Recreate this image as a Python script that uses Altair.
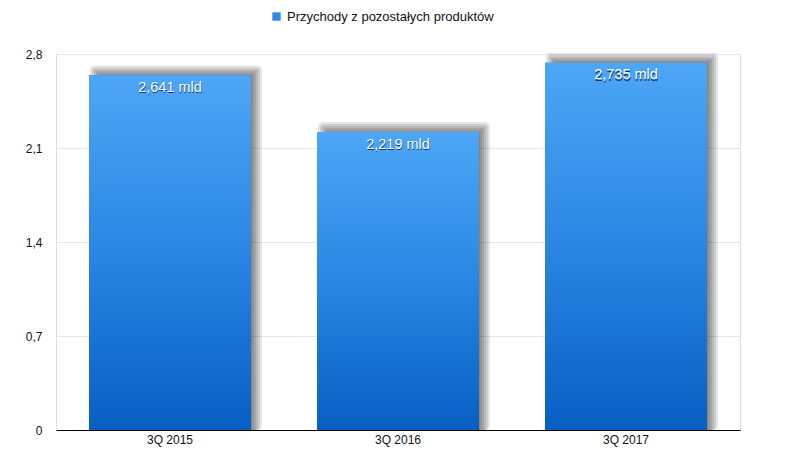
import altair as alt
import pandas as pd

categories = ["3Q 2015", "3Q 2016", "3Q 2017"]
values = [2.641, 2.219, 2.735]
series_name = "Przychody z pozostałych produktów"
y_ticks = [0, 0.7, 1.4, 2.1, 2.8]

labels = [f"{v:.3f}".replace(".", ",") + " mld" for v in values]
df = pd.DataFrame({"cat": categories, "val": values, "label": labels, "series": [series_name] * 3})

FONT = "Liberation Sans"
BAR_W = 162
PX = 2.8 / 376  # data units per pixel on the y scale

x_enc = alt.X("cat:N", sort=categories, title=None,
              axis=alt.Axis(labelAngle=0, ticks=False, domain=True, domainColor="black",
                            domainWidth=1, labelFontSize=12, labelColor="#111", labelPadding=4,
                            labelFont=FONT, grid=False))
y_axis = alt.Axis(values=y_ticks, domain=False, ticks=False, grid=True,
                  gridColor="#e6e6e6", labelFontSize=12, labelColor="#111",
                  labelPadding=14, labelFont=FONT,
                  labelExpr="datum.value == 0 ? '0' : replace(format(datum.value, '.1f'), '.', ',')")
y_scale = alt.Scale(domain=[0, 2.8], nice=False, zero=True)
y_enc = alt.Y("val:Q", title=None, scale=y_scale, axis=y_axis)

base = alt.Chart(df)

shadow_layers = []
for s in [-5, -3, -1, 1, 3, 5]:
    shadow_layers.append(
        base.transform_calculate(top=f"datum.val + {(5 + s) * PX}")
        .mark_bar(color="black", opacity=0.1, width=BAR_W + 2 * s, xOffset=6,
                  cornerRadius=max(s, 0))
        .encode(x=x_enc, y=alt.Y("top:Q", scale=y_scale, axis=y_axis, title=None))
    )

legend_bar = base.mark_bar(width=BAR_W).encode(
    x=x_enc, y=y_enc,
    color=alt.Color("series:N", title=None,
                    scale=alt.Scale(range=["#2f8ae6"]),
                    legend=alt.Legend(orient="none", legendX=214, legendY=-44,
                                      symbolType="square", symbolSize=70,
                                      symbolStrokeWidth=0, labelFontSize=13,
                                      labelFont=FONT, labelColor="#111",
                                      labelLimit=0, symbolOpacity=1))
)

grad_bar = base.mark_bar(
    width=BAR_W,
    color=alt.Gradient(gradient="linear", x1=0, x2=0, y1=0, y2=1,
                       stops=[alt.GradientStop(color="#4da6f6", offset=0),
                              alt.GradientStop(color="#2a86e2", offset=0.5),
                              alt.GradientStop(color="#075fc3", offset=1)])
).encode(x=x_enc, y=y_enc)

text_shadow = base.mark_text(dy=14, dx=0.5, fontSize=14.5, font=FONT, color="#0b2a50",
                             opacity=0.85).encode(x=x_enc, y=y_enc, text="label:N")
text_main = base.mark_text(dy=12.5, fontSize=14.5, font=FONT, color="white").encode(
    x=x_enc, y=y_enc, text="label:N")

chart = alt.layer(*shadow_layers, legend_bar, grad_bar, text_shadow, text_main).properties(
    width=684, height=376,
    padding={"left": 48, "top": 46, "right": 42, "bottom": 30},
    autosize=alt.AutoSizeParams(type="none"),
).configure_view(stroke=None).configure(background="white")

chart.save("out.html", embed_options={"renderer": "svg", "actions": False})
